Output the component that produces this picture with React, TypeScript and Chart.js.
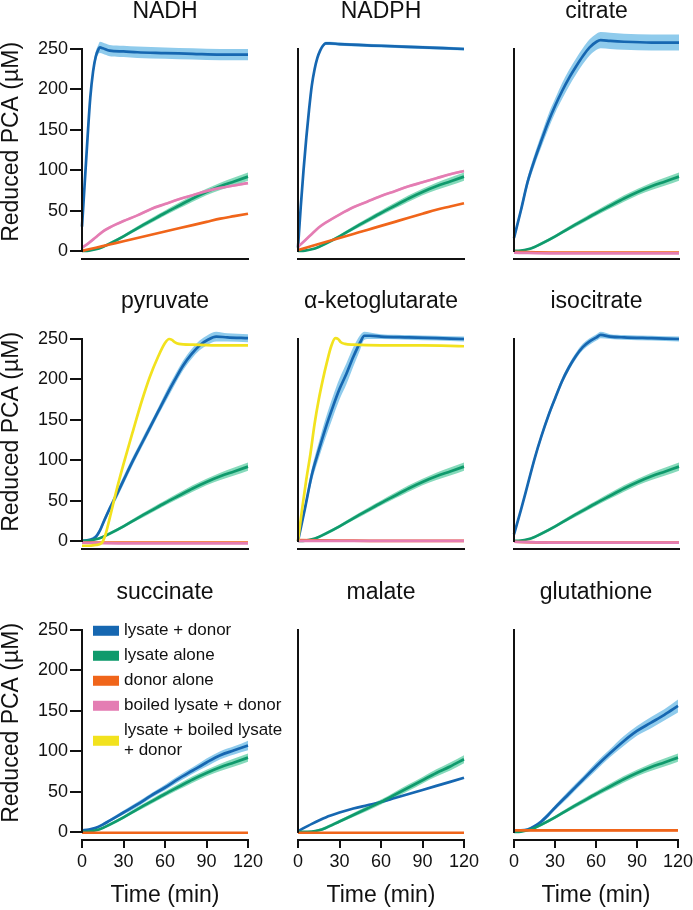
import React, { useEffect, useRef } from 'react';
import { Chart, registerables } from 'chart.js';

Chart.register(...registerables);

type Pt = [number, number, number]; // [time (min), mean (µM), sem (µM)]

const FONT = '"Liberation Sans", Arial, Helvetica, sans-serif';
const INK = '#111111';

const SERIES_NAMES = ['lysate + donor', 'lysate alone', 'donor alone', 'boiled lysate + donor', 'lysate + boiled lysate + donor'];
const LEGEND_LINES = [['lysate + donor'], ['lysate alone'], ['donor alone'], ['boiled lysate + donor'], ['lysate + boiled lysate', '+ donor']];
const LINE_COLORS = ['#1667b1', '#0f9a6c', '#f0651a', '#e47db3', '#f2e21e'];
const BAND_COLORS = ['#8fcbec', '#86dabb', '#f7b48e', '#f3bcd8', '#faf08c'];
const PANEL_TITLES = ['NADH', 'NADPH', 'citrate', 'pyruvate', 'α-ketoglutarate', 'isocitrate', 'succinate', 'malate', 'glutathione'];
const X_TICKS = [0, 30, 60, 90, 120];
const Y_TICKS = [0, 50, 100, 150, 200, 250];
const Y_TITLE = 'Reduced PCA (µM)';
const X_TITLE = 'Time (min)';

// shared "lysate alone" control
const LYSATE_ALONE: Pt[] = [[0, 0, 1], [5, 0.4, 1], [10, 2, 1], [15, 5, 1.5], [20, 9, 2], [30, 18, 2], [40, 28, 2.5], [50, 37.5, 3], [60, 47, 3], [70, 56, 3.5], [80, 65, 4], [90, 73, 4], [100, 80, 4.5], [110, 86, 5], [120, 92, 5]];

// NADH
const NADH_LYSATE_DONOR: Pt[] = [[0, 30, 3], [2, 85, 4], [4, 140, 5], [6, 190, 5], [8, 222, 6], [10, 241, 6], [12, 250, 6], [13, 252, 7], [15, 251, 7], [20, 248, 7], [30, 247, 7], [40, 246, 7], [60, 245, 7], [80, 244, 7], [100, 243, 7], [120, 243, 7]];
const NADH_DONOR: Pt[] = [[0, 0, 0], [10, 4, 0], [20, 8, 0], [30, 12, 0], [40, 16, 0], [50, 20, 0], [60, 24, 0], [70, 28, 0], [80, 32, 0], [90, 36, 0], [100, 40, 0], [110, 43, 0], [120, 46, 0]];
const NADH_BOILED_DONOR: Pt[] = [[0, 4, 1.5], [5, 10, 1.5], [10, 17, 1.5], [15, 24, 1.5], [20, 29, 1.5], [30, 37, 1.5], [40, 44, 1.5], [50, 52, 1.5], [60, 58, 1.5], [70, 64, 1.5], [80, 69, 1.5], [90, 74, 1.5], [100, 78, 1.5], [110, 81, 1.5], [120, 84, 1.5]];

// NADPH
const NADPH_LYSATE_DONOR: Pt[] = [[0, 4, 2], [2, 55, 2], [4, 100, 2], [6, 140, 2], [8, 175, 2], [10, 205, 2], [12, 225, 2], [14, 239, 2], [16, 248, 2], [18, 254, 2], [20, 257, 2], [23, 257, 2], [30, 256, 2], [60, 254, 2], [90, 252, 2], [120, 250, 2]];
const NADPH_DONOR: Pt[] = [[0, 1, 0], [10, 6, 0], [20, 11, 0], [30, 16, 0], [40, 21, 0], [50, 26, 0], [60, 31, 0], [70, 36, 0], [80, 41, 0], [90, 46, 0], [100, 51, 0], [110, 55, 0], [120, 59, 0]];
const NADPH_BOILED_DONOR: Pt[] = [[0, 5, 1.5], [5, 13, 1.5], [10, 21, 1.5], [15, 29, 1.5], [20, 35, 1.5], [30, 45, 1.5], [40, 54, 1.5], [50, 61, 1.5], [60, 68, 1.5], [70, 74, 1.5], [80, 80, 1.5], [90, 85, 1.5], [100, 90, 1.5], [110, 95, 1.5], [120, 99, 1.5]];

// citrate
const CIT_LYSATE_DONOR: Pt[] = [[0, 16, 4], [5, 50, 5], [10, 86, 6], [15, 113, 7], [20, 137, 8], [25, 160, 9], [30, 180, 9], [35, 198, 10], [40, 214, 10], [45, 228, 10], [50, 241, 10], [55, 252, 10], [60, 259, 10], [63, 261, 10], [70, 260, 10], [80, 259, 10], [100, 258, 10], [120, 258, 10]];
const CIT_DONOR: Pt[] = [[0, -1, 0], [30, -2, 0], [60, -2, 0], [90, -2, 0], [120, -2, 0]];
const CIT_BOILED_DONOR: Pt[] = [[0, -2, 0], [30, -3, 0], [60, -3, 0], [90, -3, 0], [120, -3, 0]];

// pyruvate
const PYR_LYSATE_DONOR: Pt[] = [[0, 0, 2], [5, 1, 2], [10, 5, 3], [13, 13, 3], [16, 25, 4], [20, 40, 4], [25, 57, 5], [30, 75, 5], [37, 100, 5], [43, 120, 5], [49, 140, 5], [55, 160, 5], [61, 180, 6], [67, 199, 6], [73, 217, 6], [79, 231, 6], [85, 242, 6], [91, 249, 6], [97, 253, 6], [105, 252, 5], [120, 251, 5]];
const PYR_DONOR: Pt[] = [[0, -2, 0], [30, -2, 0], [60, -2, 0], [90, -2, 0], [120, -2, 0]];
const PYR_BOILED_DONOR: Pt[] = [[0, -2, 0], [30, -3, 0], [60, -3, 0], [90, -3, 0], [120, -3, 0]];
const PYR_LYSATE_BOILED_DONOR: Pt[] = [[0, -6, 0], [5, -6, 0], [10, -5, 0], [14, -3, 0], [17, 8, 0], [20, 28, 0], [25, 63, 0], [30, 95, 0], [37, 137, 0], [43, 172, 0], [49, 203, 0], [55, 228, 0], [60, 245, 0], [63, 250, 0], [65, 249, 0], [67, 246, 0], [70, 244, 0], [80, 243, 0], [100, 242, 0], [120, 242, 0]];

// alpha-ketoglutarate
const AKG_LYSATE_DONOR: Pt[] = [[0, 0, 2], [5, 40, 5], [10, 82, 8], [15, 112, 10], [20, 140, 12], [25, 165, 13], [30, 188, 13], [35, 207, 13], [40, 228, 12], [45, 246, 9], [48, 254, 5], [52, 254, 4], [60, 253, 3], [80, 252, 3], [100, 251, 3], [120, 250, 3]];
const AKG_DONOR: Pt[] = [[0, 1, 0], [30, 0.5, 0], [60, 0, 0], [90, 0, 0], [120, 0, 0]];
const AKG_BOILED_DONOR: Pt[] = [[0, 0, 0], [30, 0, 0], [60, 0, 0], [90, 0, 0], [120, 0, 0]];
const AKG_LYSATE_BOILED_DONOR: Pt[] = [[0, 0, 0], [3, 40, 0], [6, 76, 0], [9, 108, 0], [12, 145, 0], [15, 175, 0], [18, 200, 0], [21, 222, 0], [24, 241, 0], [27, 251, 0], [29, 250, 0], [31, 246, 0], [34, 244, 0], [40, 243, 0], [60, 242, 0], [90, 242, 0], [120, 241, 0]];

// isocitrate
const ICT_LYSATE_DONOR: Pt[] = [[0, 8, 3], [5, 38, 3], [10, 70, 4], [15, 102, 4], [20, 130, 4], [25, 155, 4], [30, 177, 4], [35, 198, 4], [40, 215, 4], [45, 229, 4], [50, 240, 4], [55, 247, 4], [60, 252, 4], [63, 255, 4], [70, 253, 3], [80, 252, 3], [100, 251, 3], [120, 250, 3]];
const ICT_DONOR: Pt[] = [[0, -1, 0], [30, -2, 0], [60, -2, 0], [90, -2, 0], [120, -2, 0]];
const ICT_BOILED_DONOR: Pt[] = [[0, -1, 0], [30, -2, 0], [60, -2, 0], [90, -2, 0], [120, -2, 0]];

// succinate
const SUC_LYSATE_DONOR: Pt[] = [[0, 2, 1], [5, 3, 1], [10, 5, 1.5], [15, 9, 2], [20, 14, 2], [30, 24, 2.5], [40, 34, 3], [50, 45, 3], [60, 55, 3.5], [70, 66, 4], [80, 76, 4], [90, 86, 5], [100, 95, 5], [110, 101, 5], [120, 107, 6]];
const SUC_DONOR: Pt[] = [[0, -1, 0], [30, -1, 0], [60, -1, 0], [90, -1, 0], [120, -1, 0]];

// malate
const MAL_LYSATE_DONOR: Pt[] = [[0, 1, 0], [10, 10, 0], [20, 18, 0], [30, 24, 0], [40, 29, 0], [50, 33, 0], [60, 37, 0], [70, 42, 0], [80, 47, 0], [90, 52, 0], [100, 57, 0], [110, 62, 0], [120, 67, 0]];
const MAL_LYSATE_ALONE: Pt[] = [[0, 0, 1], [10, 0.5, 1], [15, 2, 1.5], [20, 5, 2], [30, 13, 2], [40, 21, 2.5], [50, 29, 3], [60, 37, 3], [70, 46, 3.5], [80, 55, 4], [90, 64, 4], [100, 73, 4.5], [110, 81, 5], [120, 90, 5]];
const MAL_DONOR: Pt[] = [[0, -1, 0], [30, -1, 0], [60, -1, 0], [90, -1, 0], [120, -1, 0]];

// glutathione
const GSH_LYSATE_DONOR: Pt[] = [[0, 2, 1], [5, 2, 1], [10, 3, 1.5], [15, 7, 2], [20, 13, 2.5], [25, 21, 3], [30, 30, 3], [40, 47, 4], [50, 64, 4], [60, 81, 5], [70, 97, 5], [80, 112, 6], [90, 125, 6], [100, 135, 7], [110, 145, 7], [120, 156, 8]];
const GSH_DONOR: Pt[] = [[0, 2, 1.5], [30, 2, 1.5], [60, 2, 1.5], [90, 2, 1.5], [120, 2, 1.5]];

// series order: [lysate + donor, lysate alone, donor alone, boiled lysate + donor, lysate + boiled lysate + donor]
const PANEL_SERIES: (Pt[] | null)[][] = [
  [NADH_LYSATE_DONOR, LYSATE_ALONE, NADH_DONOR, NADH_BOILED_DONOR, null],
  [NADPH_LYSATE_DONOR, LYSATE_ALONE, NADPH_DONOR, NADPH_BOILED_DONOR, null],
  [CIT_LYSATE_DONOR, LYSATE_ALONE, CIT_DONOR, CIT_BOILED_DONOR, null],
  [PYR_LYSATE_DONOR, LYSATE_ALONE, PYR_DONOR, PYR_BOILED_DONOR, PYR_LYSATE_BOILED_DONOR],
  [AKG_LYSATE_DONOR, LYSATE_ALONE, AKG_DONOR, AKG_BOILED_DONOR, AKG_LYSATE_BOILED_DONOR],
  [ICT_LYSATE_DONOR, LYSATE_ALONE, ICT_DONOR, ICT_BOILED_DONOR, null],
  [SUC_LYSATE_DONOR, LYSATE_ALONE, SUC_DONOR, null, null],
  [MAL_LYSATE_DONOR, MAL_LYSATE_ALONE, MAL_DONOR, null, null],
  [GSH_LYSATE_DONOR, LYSATE_ALONE, GSH_DONOR, null, null],
];

// layout geometry (page pixels)
const COL_LEFT = [0, 290, 486];
const COL_WIDTH = [290, 196, 210];
const COL_PAD_LEFT = [0, 8, 28];
const COL_PAD_RIGHT = [42, 22, 17];
const ROW_TOP = [0, 290, 581];
const ROW_HEIGHT = [290, 291, 329];
const ROW_PAD_BOTTOM = [31, 32, 0];

function buildDatasets(series: (Pt[] | null)[]) {
  const ds: any[] = [];
  const drawOrder = [4, 3, 2, 1, 0];
  drawOrder.forEach((si, k) => {
    const s = series[si];
    if (!s) return;
    ds.push({
      label: SERIES_NAMES[si],
      data: s.map((p) => ({ x: p[0], y: p[1] })),
      borderColor: LINE_COLORS[si],
      backgroundColor: LINE_COLORS[si],
      borderWidth: 2.7,
      pointRadius: 0,
      fill: false,
      cubicInterpolationMode: 'monotone',
      clip: false,
      order: k,
    });
  });
  series.forEach((s, si) => {
    if (!s || !s.some((p) => p[2] > 0)) return;
    ds.push({
      label: SERIES_NAMES[si] + ' +sem',
      data: s.map((p) => ({ x: p[0], y: p[1] + p[2] })),
      borderColor: 'transparent',
      borderWidth: 0,
      pointRadius: 0,
      backgroundColor: BAND_COLORS[si],
      fill: '+1',
      cubicInterpolationMode: 'monotone',
      order: 10 + si,
    });
    ds.push({
      label: SERIES_NAMES[si] + ' -sem',
      data: s.map((p) => ({ x: p[0], y: p[1] - p[2] })),
      borderColor: 'transparent',
      borderWidth: 0,
      pointRadius: 0,
      fill: false,
      cubicInterpolationMode: 'monotone',
      order: 10 + si,
    });
  });
  return ds;
}

const panelPlugin = {
  id: 'panelAxes',
  afterDatasetsDraw(chart: any, _args: any, opts: any) {
    const { ctx, scales, chartArea } = chart;
    const x = scales.x;
    const y = scales.y;
    const x0 = x.getPixelForValue(0);
    ctx.save();
    ctx.strokeStyle = INK;
    ctx.lineWidth = 2;
    ctx.beginPath();
    ctx.moveTo(x0, y.getPixelForValue(Y_TICKS[Y_TICKS.length - 1]) - 1);
    ctx.lineTo(x0, y.getPixelForValue(0) + 1);
    ctx.stroke();
    if (opts && opts.legend) {
      const lx = chartArea.left + 11;
      let ly = chartArea.top + 25;
      ctx.font = `17px ${FONT}`;
      ctx.textBaseline = 'middle';
      ctx.textAlign = 'left';
      LEGEND_LINES.forEach((lines, i) => {
        const lh = 20;
        const boxY = ly + ((lines.length - 1) * lh) / 2;
        ctx.fillStyle = LINE_COLORS[i];
        ctx.fillRect(lx, boxY - 5, 26, 10);
        ctx.fillStyle = INK;
        lines.forEach((t, j) => ctx.fillText(t, lx + 31, ly + j * lh));
        ly += 25 + (lines.length - 1) * lh;
      });
    }
    ctx.restore();
  },
};

function Panel({ index }: { index: number }) {
  const ref = useRef<HTMLCanvasElement>(null);
  const row = Math.floor(index / 3);
  const col = index % 3;
  const w = COL_WIDTH[col];
  const h = ROW_HEIGHT[row];

  useEffect(() => {
    if (!ref.current) return;
    const isLeft = col === 0;
    const isBottom = row === 2;
    const chart = new Chart(ref.current, {
      type: 'line',
      data: { datasets: buildDatasets(PANEL_SERIES[index]) },
      plugins: [panelPlugin],
      options: {
        responsive: false,
        animation: false,
        events: [],
        layout: { padding: { left: COL_PAD_LEFT[col], right: COL_PAD_RIGHT[col], top: 0, bottom: ROW_PAD_BOTTOM[row] } },
        plugins: {
          legend: { display: false },
          tooltip: { enabled: false },
          title: {
            display: true,
            text: PANEL_TITLES[index],
            fullSize: false,
            color: INK,
            font: { family: FONT, size: 23, weight: 'normal', lineHeight: 1 },
            padding: { top: 0, bottom: 1.77 },
          },
          panelAxes: { legend: index === 6 },
        } as any,
        scales: {
          x: {
            type: 'linear',
            min: 0,
            max: 120,
            afterBuildTicks: (s: any) => { s.ticks = X_TICKS.map((v) => ({ value: v })); },
            afterFit: (s: any) => { s.height = isBottom ? 70 : 0; },
            border: { display: true, color: INK, width: 2 },
            grid: { display: isBottom, drawOnChartArea: false, drawTicks: isBottom, tickLength: 8, color: INK, lineWidth: 2 },
            ticks: { display: isBottom, padding: 3, color: INK, font: { family: FONT, size: 18 }, maxRotation: 0, autoSkip: false },
            title: { display: isBottom, text: X_TITLE, color: INK, font: { family: FONT, size: 23, lineHeight: 1 }, padding: { top: 0, bottom: 3 } },
          },
          y: {
            type: 'linear',
            min: -10,
            max: 280,
            display: isLeft,
            afterBuildTicks: (s: any) => { s.ticks = Y_TICKS.map((v) => ({ value: v })); },
            afterFit: (s: any) => { s.width = isLeft ? 82 : 0; },
            border: { display: false },
            grid: { drawOnChartArea: false, drawTicks: true, tickLength: 12, color: INK, lineWidth: 2 },
            ticks: { padding: 2, color: INK, font: { family: FONT, size: 18 }, autoSkip: false },
            title: { display: true, text: Y_TITLE, color: INK, font: { family: FONT, size: 23, lineHeight: 1 }, padding: { top: 0, bottom: 0 } },
          },
        },
      } as any,
    });
    return () => chart.destroy();
  }, [index]);

  return (
    <canvas
      ref={ref}
      width={w}
      height={h}
      style={{ position: 'absolute', left: COL_LEFT[col], top: ROW_TOP[row], width: w, height: h }}
    />
  );
}

export default function App() {
  return (
    <div style={{ position: 'fixed', left: 0, top: 0, width: 693, height: 910, background: '#ffffff', overflow: 'hidden' }}>
      {PANEL_TITLES.map((_, i) => (
        <Panel key={i} index={i} />
      ))}
    </div>
  );
}
